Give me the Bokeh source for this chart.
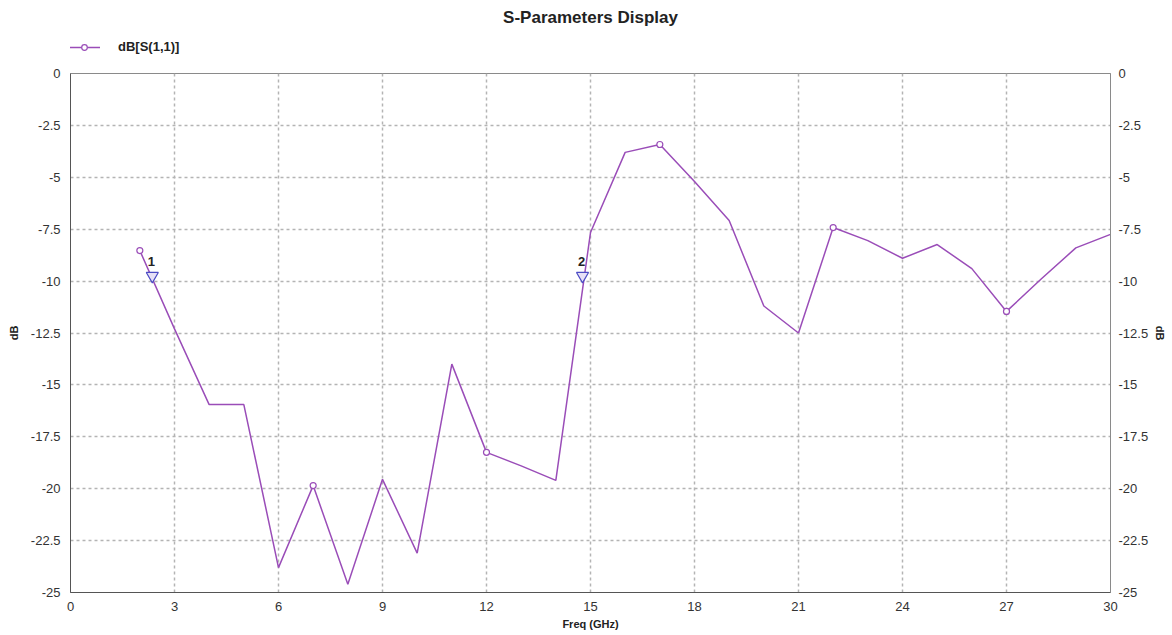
from bokeh.plotting import figure
from bokeh.layouts import column
from bokeh.models import (Range1d, LinearAxis, FixedTicker, Legend, LegendItem,
                          ColumnDataSource, Label)
from bokeh.core.properties import value
from bokeh.embed import file_html
from bokeh.resources import INLINE

# S11 magnitude sweep (dB) at 1 GHz steps
freq_ghz = [2, 3, 4, 5, 6, 7, 8, 9, 10, 11, 12, 13, 14, 15, 16, 17, 18, 19, 20,
            21, 22, 23, 24, 25, 26, 27, 28, 29, 30]
s11_db = [-8.53, -12.3, -15.95, -15.95, -23.8, -19.85, -24.6, -19.55, -23.1,
          -14.0, -18.25, -18.9, -19.6, -7.66, -3.8, -3.42, -5.2, -7.08, -11.2,
          -12.5, -7.42, -8.05, -8.9, -8.24, -9.4, -11.46, -9.9, -8.4, -7.75]

# every fifth sample carries a symbol
sym_freq = freq_ghz[::5]
sym_db = s11_db[::5]

# markers placed on the trace
marker_names = ["1", "2"]
marker_freq = [2.36, 14.77]
marker_db = [-10.0, -10.0]

x_ticks = [0, 3, 6, 9, 12, 15, 18, 21, 24, 27, 30]
y_ticks = [0, -2.5, -5, -7.5, -10, -12.5, -15, -17.5, -20, -22.5, -25]
y_tick_text = {t: ("%g" % t) for t in y_ticks}

TRACE = "#9a4db8"
FONT = "Liberation Sans"
W, HEADER_H, PLOT_H = 1172, 63, 572

trace_src = ColumnDataSource(dict(f=freq_ghz, db=s11_db))
sym_src = ColumnDataSource(dict(f=sym_freq, db=sym_db))

# ---- header strip: title and legend ----
# the column aligns this frame with the chart frame below; its y range lies
# above the data, so the series here only feeds the legend swatch
head = figure(width=W, height=HEADER_H, output_backend="svg", toolbar_location=None,
              x_range=Range1d(0, 1), y_range=Range1d(0, HEADER_H),
              x_axis_type=None, y_axis_type=None, min_border=0)
head.outline_line_color = None
head.grid.visible = False

head.add_layout(Label(x=0.5, y=HEADER_H - 17, text="S-Parameters Display",
                      text_font=FONT, text_font_size="17px", text_font_style="bold",
                      text_color="#222222", text_align="center",
                      text_baseline="middle"))

leg_line = head.line("f", "db", source=trace_src, line_color=TRACE, line_width=1.5)
leg_sym = head.scatter("f", "db", source=sym_src, marker="circle", size=6,
                       line_color=TRACE, fill_color="white", line_width=1.2)
legend = Legend(items=[LegendItem(label="dB[S(1,1)]", renderers=[leg_line, leg_sym])],
                location=(-2, 9), orientation="horizontal",
                border_line_color=None, background_fill_alpha=0,
                glyph_width=32, glyph_height=14, label_height=14,
                label_standoff=18, padding=0, margin=0,
                label_text_font=FONT, label_text_font_size="13px",
                label_text_font_style="bold", label_text_color="#222222")
head.add_layout(legend, "center")

# ---- main chart ----
p = figure(width=W, height=PLOT_H, output_backend="svg", toolbar_location=None,
           x_range=Range1d(0, 30), y_range=Range1d(-25, 0),
           min_border_left=70, min_border_right=62, min_border_top=10,
           min_border_bottom=43)
p.outline_line_color = "#8a8a8a"
p.outline_line_width = 1

right_axis = LinearAxis()
p.add_layout(right_axis, "right")

for ax in [p.xaxis[0], p.yaxis[0], right_axis]:
    ax.major_tick_out = 0
    ax.major_tick_in = 0
    ax.minor_tick_out = 0
    ax.minor_tick_in = 0
    ax.axis_line_color = "#555555"
    ax.major_label_text_font = FONT
    ax.major_label_text_font_size = "13px"
    ax.major_label_text_color = "#333333"
    ax.axis_label_text_font = FONT
    ax.axis_label_text_font_size = "11px"
    ax.axis_label_text_font_style = "bold"
    ax.axis_label_text_color = "#222222"

p.xaxis.ticker = FixedTicker(ticks=x_ticks)
p.xaxis.major_label_standoff = 9
p.xaxis.axis_label = "Freq (GHz)"
p.xaxis.axis_label_standoff = 4

for ax in [p.yaxis[0], right_axis]:
    ax.ticker = FixedTicker(ticks=y_ticks)
    ax.major_label_overrides = y_tick_text
    ax.axis_label = "dB"
p.yaxis[0].major_label_standoff = 10
p.yaxis[0].axis_label_standoff = 8
right_axis.major_label_standoff = 8
right_axis.axis_label_standoff = 3
right_axis.axis_line_color = "#8a8a8a"

p.xgrid.ticker = FixedTicker(ticks=x_ticks)
p.ygrid.ticker = FixedTicker(ticks=y_ticks)
for g in [p.xgrid[0], p.ygrid[0]]:
    g.grid_line_color = "#b4b4b4"
    g.grid_line_dash = "3 3"
    g.grid_line_width = 1.5

p.line("f", "db", source=trace_src, line_color=TRACE, line_width=1.5)
p.scatter("f", "db", source=sym_src, marker="circle", size=6, line_color=TRACE,
          fill_color="white", line_width=1.2)

# marker triangles hang with their tip on the trace
tri_lift = 0.25
msrc = ColumnDataSource(dict(x=marker_freq, y=marker_db, name=marker_names,
                             ty=[v + tri_lift for v in marker_db]))
p.scatter("x", "ty", source=msrc, marker="inverted_triangle", size=12,
          line_color="#4b4bc4", fill_color="#e6e0f6", line_width=1.2)
p.text("x", "y", text="name", source=msrc, text_font=value(FONT),
       text_font_size="13px", text_font_style="bold", text_color="#222222",
       text_align="center", text_baseline="bottom", x_offset=-1, y_offset=-15)

layout = column(head, p, spacing=0)
open("out.html", "w").write(file_html(layout, INLINE))
